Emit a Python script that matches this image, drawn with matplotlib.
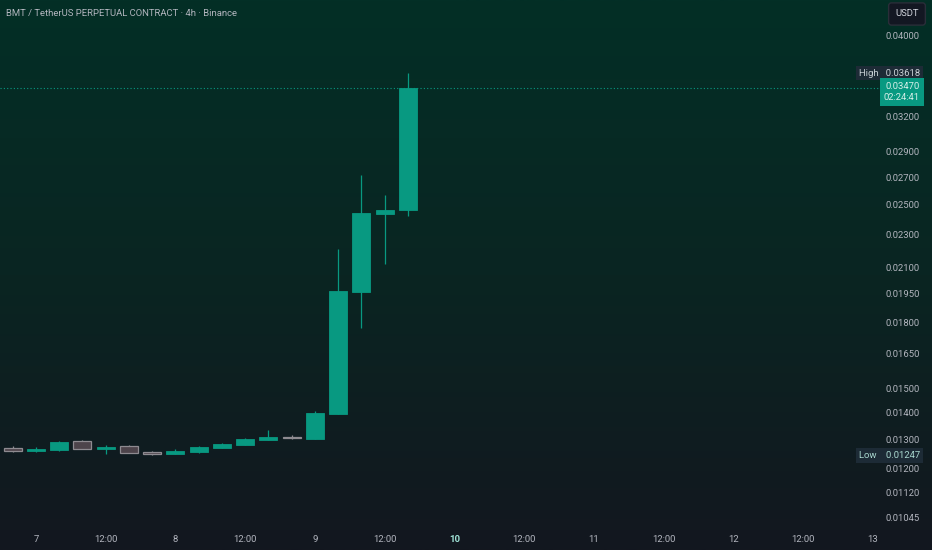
import matplotlib
matplotlib.use('Agg')
import matplotlib.pyplot as plt
import numpy as np
from matplotlib.transforms import blended_transform_factory

plt.rcParams['font.family'] = ['Roboto', 'DejaVu Sans']

# 4h candles, hours counted from day 7 00:00
hours = [-4, 0, 4, 8, 12, 16, 20, 24, 28, 32, 36, 40, 44, 48, 52, 56, 60, 64]
opens = [0.01272, 0.01263, 0.01266, 0.01297, 0.01269, 0.01280, 0.01260, 0.01252, 0.01260,
         0.01274, 0.01284, 0.01302, 0.01311, 0.01306, 0.01401, 0.01968, 0.02441, 0.02470]
highs = [0.01281, 0.01277, 0.01297, 0.01300, 0.01283, 0.01282, 0.01261, 0.01271, 0.01279,
         0.01291, 0.01310, 0.01339, 0.01321, 0.01412, 0.02216, 0.02724, 0.02576, 0.03618]
lows = [0.01258, 0.01259, 0.01264, 0.01268, 0.01253, 0.01254, 0.01247, 0.01251, 0.01257,
        0.01273, 0.01283, 0.01301, 0.01305, 0.01305, 0.01399, 0.01780, 0.02124, 0.02430]
closes = [0.01263, 0.01270, 0.01294, 0.01269, 0.01278, 0.01255, 0.01253, 0.01262, 0.01277,
          0.01289, 0.01305, 0.01313, 0.01310, 0.01402, 0.01970, 0.02450, 0.02470, 0.03470]

price_ticks = [0.04, 0.032, 0.029, 0.027, 0.025, 0.023, 0.021, 0.0195, 0.018, 0.0165,
               0.015, 0.014, 0.013, 0.012, 0.0112, 0.01045]
time_ticks = [0, 12, 24, 36, 48, 60, 72, 84, 96, 108, 120, 132, 144]
time_labels = ['7', '12:00', '8', '12:00', '9', '12:00', '10', '12:00', '11', '12:00', '12', '12:00', '13']

title = 'BMT / TetherUS PERPETUAL CONTRACT · 4h · Binance'
countdown = '02:24:41'

bull = '#089981'
bear_fill = '#4d444b'
bear_edge = '#8e8b91'
text_col = '#b2b5be'
fs = 6.8

fig = plt.figure(figsize=(9.32, 5.5), dpi=100)

# background gradient
bg = fig.add_axes([0, 0, 1, 1])
stops = np.array([[3, 47, 38], [10, 37, 34], [19, 23, 31]]) / 255.0
t = np.linspace(0, 1, 300)
grad = np.stack([np.interp(t, [0, 0.5, 1], stops[:, k]) for k in range(3)], axis=1)
bg.imshow(grad[:, None, :], aspect='auto', extent=[0, 1, 0, 1])
bg.set_axis_off()

ax = fig.add_axes([0, 0, 1, 1])
ax.set_facecolor('none')
ax.set_yscale('log')
ax.set_xlim(-6.19, 154.15)
ax.set_ylim(0.009582, 0.04434)
ax.set_axis_off()

hours_a = np.array(hours)
o = np.array(opens)
c = np.array(closes)
up = c > o
for i in range(len(hours)):
    col = bull if up[i] else bear_edge
    ax.vlines(hours_a[i], lows[i], highs[i], color=col, lw=0.9, zorder=2)
ax.bar(hours_a[up], c[up] - o[up], bottom=o[up], width=3.1, color=bull,
       edgecolor=bull, lw=0.6, zorder=3)
ax.bar(hours_a[~up], o[~up] - c[~up], bottom=c[~up], width=3.1, color=bear_fill,
       edgecolor=bear_edge, lw=0.9, zorder=3)

# last price dotted line
ax.axhline(closes[-1], xmin=0, xmax=0.95, color=bull, lw=0.8, ls=(0, (1, 2)), zorder=1)

tr = blended_transform_factory(ax.transAxes, ax.transData)
xr = 920 / 932
for p in price_ticks:
    ax.text(xr, p, '%.5f' % p, transform=tr, ha='right', va='center',
            fontsize=fs, color=text_col)

tx = blended_transform_factory(ax.transData, ax.transAxes)
for h, lab in zip(time_ticks, time_labels):
    bold = lab == '10'
    ax.text(h, 1 - 540 / 550, lab, transform=tx, ha='center', va='center',
            fontsize=fs, color='#9fe3d6' if bold else text_col,
            fontweight='bold' if bold else 'normal')

# high / low labels
hi = max(highs)
lo = min(lows)
ax.text(xr, hi, 'High   %.5f' % hi, transform=tr, ha='right', va='center', fontsize=fs,
        color='#c9d1d6', bbox=dict(boxstyle='square,pad=0.3', fc='#1d2b36', ec='none'))
ax.text(xr, lo, 'Low    %.5f' % lo, transform=tr, ha='right', va='center', fontsize=fs,
        color='#a9d8cf', bbox=dict(boxstyle='square,pad=0.3', fc='#1d2b36', ec='none'))

# last price tag
ax.annotate('%.5f\n%s' % (closes[-1], countdown), xy=(xr, closes[-1]), xycoords=tr,
            xytext=(0, 4.5), textcoords='offset points', ha='right', va='top',
            fontsize=fs, color='#d6efe9', linespacing=1.25,
            bbox=dict(boxstyle='square,pad=0.45', fc=bull, ec='none'))

ax.text(907 / 932, 1 - 14 / 550, 'USDT', transform=ax.transAxes, ha='center', va='center',
        fontsize=fs, color='#d1d4dc',
        bbox=dict(boxstyle='round,pad=0.7,rounding_size=0.3', fc='#131722', ec='#2a2e39'))

ax.text(6 / 932, 1 - 13 / 550, title, transform=ax.transAxes, ha='left', va='center',
        fontsize=6.8, color='#b2b5be')

fig.savefig('out.png', dpi=100)
